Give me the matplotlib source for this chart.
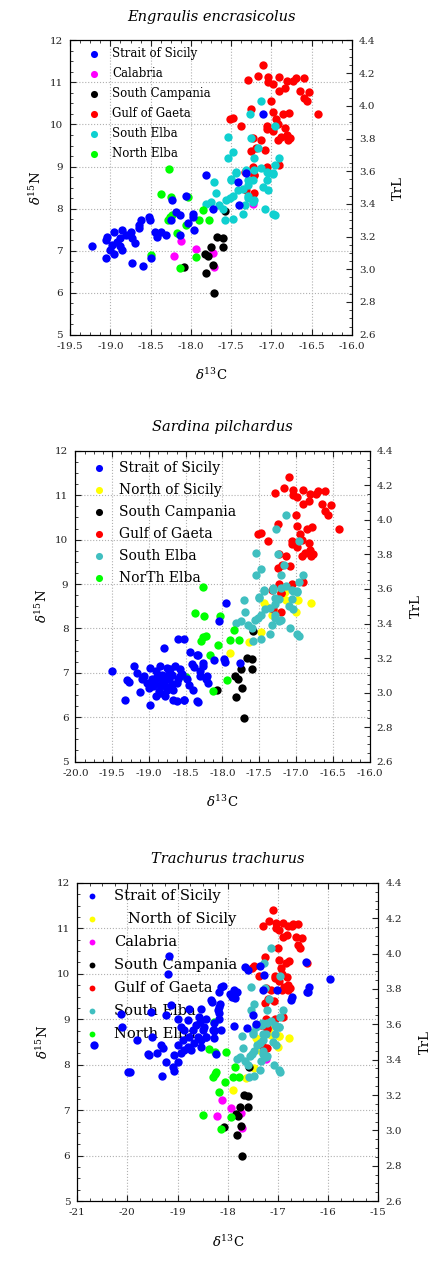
import matplotlib
matplotlib.use("Agg")
import matplotlib.pyplot as plt
from matplotlib.ticker import MultipleLocator, FormatStrFormatter

plt.rcParams['font.family'] = ['DejaVu Serif']
plt.rcParams['mathtext.fontset'] = 'dejavuserif'
plt.rcParams['axes.unicode_minus'] = False

# ---- data (d13C, d15N) ----
# groups shared by the three species panels
gaeta_x = [-17.10, -17.17, -17.04, -17.29, -16.90, -16.81, -16.73, -16.70, -16.60, -16.98,
           -17.04, -16.90, -16.83, -16.65, -16.53, -16.60, -16.56, -17.00, -16.42, -16.78,
           -16.98, -16.85, -17.25, -17.52, -17.48, -17.38, -16.94, -16.92, -17.06, -17.06,
           -16.83, -16.81, -16.88, -16.80, -16.92, -16.77, -16.98, -17.23, -17.13, -17.19,
           -17.08, -17.25, -17.06, -16.90, -17.23, -17.21, -17.31, -17.21, -17.33, -17.21]
gaeta_y = [11.41, 11.16, 11.12, 11.06, 11.12, 11.04, 11.04, 11.10, 11.10, 10.96,
           11.00, 10.80, 10.86, 10.80, 10.78, 10.64, 10.56, 10.56, 10.24, 10.28,
           10.30, 10.24, 10.36, 10.12, 10.16, 9.96, 10.12, 10.00, 9.96, 9.90,
           9.92, 9.76, 9.70, 9.64, 9.64, 9.68, 9.84, 9.68, 9.64, 9.44,
           9.40, 9.36, 9.00, 9.04, 9.00, 8.80, 8.43, 8.37, 8.87, 8.79]

selba_x = [-17.13, -17.27, -16.96, -17.54, -17.25, -17.17, -17.48, -17.54, -17.21, -16.90,
           -16.96, -17.31, -17.21, -17.44, -17.04, -16.98, -17.50, -17.29, -17.13, -17.71,
           -17.50, -17.44, -17.31, -17.06, -16.98, -17.23, -17.29, -17.35, -17.42, -17.48,
           -17.52, -17.56, -17.69, -17.75, -17.81, -17.65, -17.60, -17.58, -17.48, -17.35,
           -17.33, -17.29, -17.21, -17.10, -17.06, -17.04, -17.08, -16.98, -16.96, -17.23,
           -17.29]
selba_y = [10.56, 10.24, 9.96, 9.70, 9.68, 9.44, 9.34, 9.20, 9.20, 9.20,
           9.04, 8.92, 8.92, 8.84, 8.84, 8.82, 8.68, 8.68, 8.96, 8.63,
           8.71, 8.87, 8.87, 8.87, 8.84, 8.67, 8.55, 8.47, 8.43, 8.31,
           8.24, 8.20, 8.37, 8.16, 8.12, 8.08, 8.00, 7.72, 7.76, 7.88,
           8.08, 8.31, 8.20, 8.51, 8.67, 8.43, 8.00, 7.88, 7.84, 8.16,
           8.24]

nelba_x = [-18.27, -18.37, -18.25, -18.03, -17.85, -17.77, -17.90, -18.23, -18.29, -18.26,
           -18.06, -18.17, -18.50, -18.13, -17.94]
nelba_y = [8.94, 8.34, 8.28, 8.28, 7.96, 7.74, 7.74, 7.84, 7.72, 7.80,
           7.62, 7.41, 6.90, 6.58, 6.84]

campania_x = [-18.08, -17.83, -17.79, -17.75, -17.73, -17.81, -17.71, -17.67, -17.60, -17.60,
              -17.58]
campania_y = [6.62, 6.92, 6.87, 7.08, 6.66, 6.46, 5.99, 7.33, 7.31, 7.08,
              7.95]

calabria_x = [-18.12, -18.21, -17.94, -17.73, -17.71, -17.23]
calabria_y = [7.23, 6.87, 7.05, 6.94, 6.61, 8.12]

nsicily_x = [-17.18, -17.13, -16.98, -16.79, -17.44, -17.40, -17.20, -17.00, -17.33, -17.27,
             -17.47, -17.64, -17.90, -17.22, -17.15, -16.97]
nsicily_y = [8.80, 8.65, 8.63, 8.58, 8.58, 8.49, 8.83, 8.38, 8.31, 8.34,
             7.93, 7.70, 7.44, 8.95, 8.83, 8.64]

# Strait of Sicily, one set per species
sicily1_x = [-19.23, -19.04, -19.05, -18.95, -18.85, -18.81, -18.75, -18.88, -18.92, -18.98,
             -19.00, -18.96, -19.05, -18.88, -18.85, -18.73, -18.69, -18.65, -18.62, -18.65,
             -18.52, -18.51, -18.44, -18.42, -18.37, -18.31, -18.73, -18.60, -18.50, -18.23,
             -18.25, -18.19, -18.13, -18.13, -18.06, -17.98, -17.98, -17.96, -18.04, -17.81,
             -17.73, -17.42, -17.40, -17.10, -17.31]
sicily1_y = [7.11, 7.33, 7.25, 7.45, 7.49, 7.37, 7.45, 7.29, 7.21, 7.13,
             7.01, 6.92, 6.82, 7.11, 7.02, 7.29, 7.17, 7.53, 7.72, 7.61,
             7.80, 7.72, 7.45, 7.33, 7.45, 7.37, 6.70, 6.64, 6.82, 8.20,
             7.72, 7.92, 7.84, 7.37, 8.31, 7.88, 7.80, 7.50, 7.65, 8.79,
             8.00, 8.63, 8.08, 10.24, 8.84]

sicily2_x = [-19.50, -19.32, -19.30, -19.27, -19.21, -19.16, -19.12, -19.07, -18.99, -18.98,
             -19.03, -18.94, -18.90, -18.85, -18.82, -18.80, -18.76, -18.73, -18.71, -18.69,
             -18.90, -18.85, -18.78, -18.67, -18.62, -18.64, -18.60, -18.58, -18.53, -18.46,
             -18.42, -18.40, -18.34, -18.79, -18.60, -18.53, -18.44, -18.35, -18.26, -18.22,
             -18.31, -18.96, -18.91, -18.80, -18.76, -19.00, -18.67, -18.62, -18.58, -18.85,
             -18.71, -18.87, -18.33, -18.26, -18.11, -17.98, -17.96, -17.76, -18.05, -18.20,
             -18.33, -18.52, -18.21, -18.30, -18.39, -17.95, -18.93, -18.83, -18.74, -18.68,
             -18.55, -18.48, -19.10, -18.88, -18.78]
sicily2_y = [7.04, 6.39, 6.83, 6.79, 7.15, 7.00, 6.56, 6.92, 7.11, 6.28,
             6.77, 6.70, 6.89, 7.15, 6.96, 6.77, 7.11, 6.85, 6.66, 6.96,
             6.47, 6.55, 6.47, 6.39, 6.36, 7.15, 6.85, 7.08, 6.39, 6.73,
             7.19, 6.62, 6.36, 7.55, 7.76, 7.76, 7.48, 7.41, 7.15, 6.85,
             6.92, 6.85, 7.04, 6.92, 6.62, 6.66, 6.62, 6.77, 6.92, 6.73,
             7.08, 6.58, 7.40, 7.22, 7.29, 7.31, 7.25, 7.22, 8.17, 6.78,
             6.34, 6.38, 6.92, 7.03, 7.14, 8.57, 6.80, 6.88, 6.95, 6.75,
             6.98, 6.85, 6.86, 6.94, 6.70]

sicily3_x = [-19.18, -19.19, -18.34, -18.14, -18.09, -18.17, -18.15, -18.20, -17.95, -18.27,
             -18.17, -19.13, -19.53, -19.23, -19.00, -18.93, -18.80, -18.87, -18.70, -18.63,
             -18.77, -18.60, -18.47, -18.57, -18.44, -18.54, -18.90, -19.00, -18.80, -18.93,
             -19.07, -19.00, -18.87, -18.67, -18.73, -18.54, -20.13, -20.10, -20.66, -19.81,
             -19.50, -19.33, -19.30, -19.56, -19.40, -19.23, -19.95, -19.31, -19.10, -18.44,
             -18.27, -18.14, -19.98, -19.58, -19.08, -17.88, -17.82, -17.92, -17.85, -18.18,
             -18.18, -18.27, -18.44, -18.27, -17.88, -17.62, -17.49, -17.59, -17.27, -17.30,
             -17.01, -16.75, -16.44, -16.39, -16.42, -15.97, -17.36, -17.43, -18.53, -18.24,
             -18.31, -18.49, -18.29, -18.78, -18.55, -17.66, -16.73, -16.40]
sicily3_y = [10.39, 10.00, 9.42, 9.71, 9.74, 9.60, 9.33, 9.20, 9.56, 8.76,
             9.01, 9.31, 9.16, 9.09, 9.01, 8.83, 8.98, 8.76, 8.76, 8.87,
             8.61, 8.61, 8.83, 9.05, 9.01, 9.23, 8.54, 8.43, 8.39, 8.25,
             8.21, 8.07, 8.32, 8.47, 8.32, 8.54, 9.12, 8.83, 8.43, 8.54,
             8.61, 8.43, 8.36, 8.21, 8.25, 8.07, 7.85, 7.76, 7.96, 8.61,
             8.58, 8.77, 7.84, 8.23, 7.87, 9.64, 9.61, 9.50, 9.46, 9.28,
             9.14, 8.92, 8.60, 8.74, 8.85, 8.81, 9.10, 10.08, 9.97, 9.64,
             9.64, 9.43, 10.26, 9.71, 9.61, 9.88, 10.18, 8.90, 8.38, 8.23,
             9.39, 8.76, 8.76, 9.23, 8.94, 10.14, 9.49, 9.60]

cyan1 = '#10d0d0'
cyan2 = '#40bfc0'


def panel(rect, title, series, xlim, xmajor, xminor, xfmt, leg_size, leg_gap, leg_at, leg_mk):
    ax = fig.add_axes(rect)
    for x, y, c, lab, z in series:
        ax.scatter(x, y, s=36, color=c, linewidths=0, label=lab, zorder=z)
    ax.set_xlim(*xlim)
    ax.set_ylim(5, 12)
    ax.xaxis.set_major_locator(MultipleLocator(xmajor))
    ax.xaxis.set_minor_locator(MultipleLocator(xminor))
    ax.xaxis.set_major_formatter(FormatStrFormatter(xfmt))
    ax.yaxis.set_major_locator(MultipleLocator(1))
    ax.yaxis.set_minor_locator(MultipleLocator(0.25))
    ax.grid(True, which='major', linestyle=':', color='#b0b0b0', linewidth=0.8, zorder=0)
    ax.set_axisbelow(True)
    ax.tick_params(which='both', direction='in', top=True, right=False,
                   labelsize=7.5, colors='#222222', pad=5)
    ax.tick_params(which='major', length=4)
    ax.tick_params(which='minor', length=2)
    ax.set_title(title, fontstyle='italic', fontsize=10.5, pad=14)
    ax.set_xlabel(r'$\delta^{13}$C', fontsize=9.5, labelpad=12)
    ax.set_ylabel(r'$\delta^{15}$N', fontsize=9.5, labelpad=4)
    leg = ax.legend(loc='upper left', bbox_to_anchor=leg_at, frameon=False, fontsize=leg_size,
                    handletextpad=0.9, labelspacing=leg_gap, markerscale=leg_mk,
                    borderaxespad=0, handlelength=1.2, borderpad=0.2)
    leg.set_zorder(1)

    ax2 = ax.twinx()
    ax2.set_ylim(2.6, 4.4)
    ax2.yaxis.set_major_locator(MultipleLocator(0.2))
    ax2.yaxis.set_minor_locator(MultipleLocator(0.05))
    ax2.yaxis.set_major_formatter(FormatStrFormatter('%.1f'))
    ax2.tick_params(which='both', direction='in', labelsize=7.5, colors='#222222', pad=5)
    ax2.tick_params(which='major', length=4)
    ax2.tick_params(which='minor', length=2)
    ax2.set_ylabel('TrL', fontsize=9.5, labelpad=12)
    return ax


fig = plt.figure(figsize=(4.41, 12.63), dpi=100)

panel([0.159, 0.735, 0.639, 0.233], 'Engraulis encrasicolus',
      [(sicily1_x, sicily1_y, '#0000ff', 'Strait of Sicily', 6),
       (calabria_x, calabria_y, '#ff00ff', 'Calabria', 3),
       (campania_x, campania_y, '#000000', 'South Campania', 3),
       (gaeta_x, gaeta_y, '#ff0000', 'Gulf of Gaeta', 4),
       (selba_x, selba_y, cyan1, 'South Elba', 5),
       (nelba_x, nelba_y, '#00ff00', 'North Elba', 5)],
      (-19.5, -16.0), 0.5, 0.125, '%.1f', 8.5, 0.6, (0.053, 0.986), 0.85)

panel([0.171, 0.397, 0.667, 0.246], 'Sardina pilchardus',
      [(sicily2_x, sicily2_y, '#0000ff', 'Strait of Sicily', 6),
       (nsicily_x, nsicily_y, '#ffff00', 'North of Sicily', 3),
       (campania_x, campania_y, '#000000', 'South Campania', 3),
       (gaeta_x, gaeta_y, '#ff0000', 'Gulf of Gaeta', 4),
       (selba_x, selba_y, cyan2, 'South Elba', 5),
       (nelba_x, nelba_y, '#00ff00', 'NorTh Elba', 5)],
      (-20.0, -16.0), 0.5, 0.125, '%.1f', 10, 0.58, (0.041, 0.9775), 0.85)

panel([0.175, 0.049, 0.683, 0.252], 'Trachurus trachurus',
      [(sicily3_x, sicily3_y, '#0000ff', 'Strait of Sicily', 6),
       (nsicily_x, nsicily_y, '#ffff00', '   North of Sicily', 3),
       (calabria_x, calabria_y, '#ff00ff', 'Calabria', 3),
       (campania_x, campania_y, '#000000', 'South Campania', 3),
       (gaeta_x, gaeta_y, '#ff0000', 'Gulf of Gaeta', 4),
       (selba_x, selba_y, cyan2, 'South Elba', 5),
       (nelba_x, nelba_y, '#00ff00', 'North Elba', 5)],
      (-21, -15), 1, 0.25, '%d', 10.5, 0.62, (0.01, 0.99), 0.7)

fig.savefig('out.png', dpi=100)
